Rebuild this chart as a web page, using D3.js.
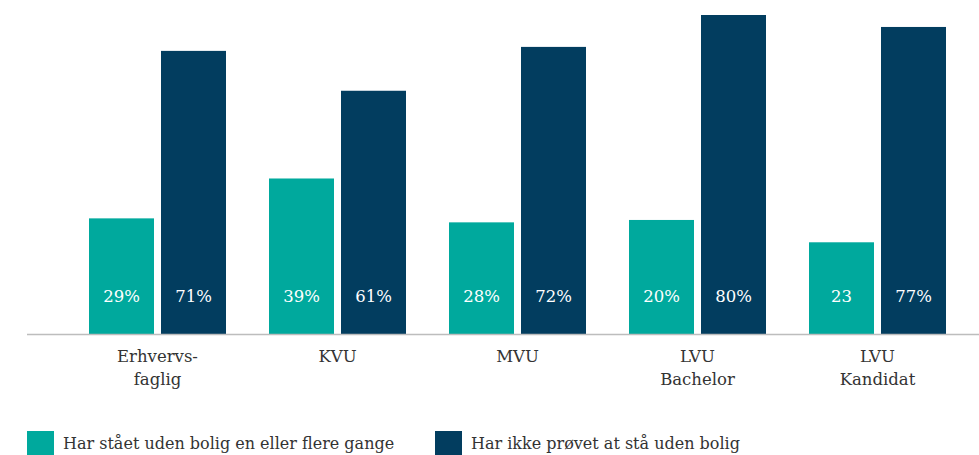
<!DOCTYPE html>
<html>
<head>
<meta charset="utf-8">
<script src="https://cdn.jsdelivr.net/npm/d3@7"></script>
<style>
  body { margin: 0; background: #fff; }
  svg text { font-family: "DejaVu Serif", "Liberation Serif", serif; }
</style>
</head>
<body>
<svg id="chart"></svg>
<script>
'use strict';

// categories (label lines)
var categories = [
    ['Erhvervs-', 'faglig'],
    ['KVU'],
    ['MVU'],
    ['LVU', 'Bachelor'],
    ['LVU', 'Kandidat']
];
var seriesNames = ['Har stået uden bolig en eller flere gange', 'Har ikke prøvet at stå uden bolig'];
// bar heights as drawn
var homeless = [29, 39, 28, 28.6, 23];
var notHomeless = [71, 61, 72, 80, 77];
// printed labels
var homelessLabels = ['29%', '39%', '28%', '20%', '23'];
var notHomelessLabels = ['71%', '61%', '72%', '80%', '77%'];
var colors = ['#00a99d', '#023d5f'];

var width = 979, height = 455;
var baseY = 334;

var svg = d3.select('#chart').attr('width', width).attr('height', height);

var x0 = d3.scaleBand().domain(d3.range(categories.length)).range([67.5, 967.5]);
var x1 = d3.scaleBand().domain([0, 1]).range([21.5, 158.5]).paddingInner(7 / 72);
var y = d3.scaleLinear().domain([0, 80]).range([baseY, 15]);

var rows = categories.map(function (c, i) {
    return {
        i: i,
        vals: [
            { s: 0, v: homeless[i], label: homelessLabels[i] },
            { s: 1, v: notHomeless[i], label: notHomelessLabels[i] }
        ]
    };
});

var groups = svg.selectAll('g.group').data(rows).enter().append('g')
    .attr('class', 'group')
    .attr('transform', function (d) { return 'translate(' + x0(d.i) + ',0)'; });

groups.selectAll('rect').data(function (d) { return d.vals; }).enter().append('rect')
    .attr('x', function (d) { return x1(d.s); })
    .attr('width', x1.bandwidth())
    .attr('y', function (d) { return y(d.v); })
    .attr('height', function (d) { return baseY - y(d.v); })
    .attr('fill', function (d) { return colors[d.s]; });

groups.selectAll('text.val').data(function (d) { return d.vals; }).enter().append('text')
    .attr('class', 'val')
    .attr('x', function (d) { return x1(d.s) + x1.bandwidth() / 2; })
    .attr('y', 302)
    .attr('text-anchor', 'middle')
    .attr('fill', '#fff')
    .style('font-size', '16.5px')
    .text(function (d) { return d.label; });

// baseline
svg.append('line')
    .attr('x1', 27).attr('x2', width)
    .attr('y1', baseY + 0.5).attr('y2', baseY + 0.5)
    .attr('stroke', '#bdbdbd').attr('stroke-width', 1.5);

// category labels
svg.selectAll('text.cat').data(categories).enter().append('text')
    .attr('class', 'cat')
    .attr('text-anchor', 'middle')
    .attr('fill', '#333')
    .style('font-size', '16.5px')
    .each(function (lines, i) {
        var t = d3.select(this);
        lines.forEach(function (l, k) {
            t.append('tspan')
                .attr('x', x0(i) + x0.bandwidth() / 2)
                .attr('y', 362 + k * 23)
                .text(l);
        });
    });

// legend
var legendX = [27, 435];
var legend = svg.selectAll('g.legend').data(seriesNames).enter().append('g')
    .attr('class', 'legend')
    .attr('transform', function (d, i) { return 'translate(' + legendX[i] + ',431)'; });
legend.append('rect').attr('width', 27).attr('height', 27)
    .attr('fill', function (d, i) { return colors[i]; });
legend.append('text').attr('x', 36).attr('y', 18)
    .attr('fill', '#333').style('font-size', '16px')
    .text(function (d) { return d; });
</script>
</body>
</html>
